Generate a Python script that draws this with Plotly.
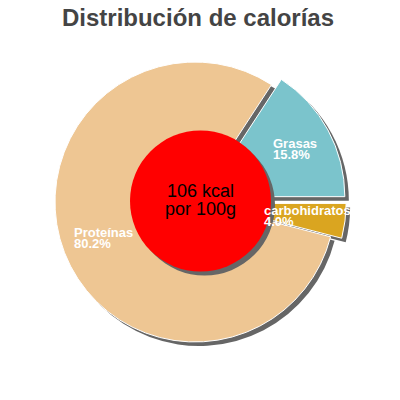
import math
import plotly.graph_objects as go

# ---- data ----
labels = ["carbohidratos", "Proteínas", "Grasas"]
values = [4.0, 80.2, 15.8]
pct_text = ["4.0%", "80.2%", "15.8%"]
colors = ["#DAA520", "#EEC693", "#7BC4CC"]
pulls = [0.08, 0.0, 0.08]
title_text = "Distribución de calorías"
center_lines = ["106 kcal", "por 100g"]

W = H = 400
OFF = 8.0                           # page body margin of the browser
CX, CY, R = 195.0, 202.0, 140.0     # pie centre / radius (px, in the screenshot)
SH = 4.0                            # shadow offset (px)
maxpull = max(pulls)
half = R * (1 + maxpull)


def px(x):
    return (x - OFF) / W


def py(y):
    return 1 - (y - OFF) / H


def dom(dx=0.0, dy=0.0):
    return dict(x=[px(CX - half + dx), px(CX + half + dx)],
                y=[py(CY + half + dy), py(CY - half + dy)])


fig = go.Figure()
# shadow pie
fig.add_trace(go.Pie(labels=labels, values=values, sort=False, direction="clockwise",
                     rotation=90, pull=pulls, domain=dom(SH, SH), textinfo="none",
                     hoverinfo="skip", showlegend=False,
                     marker=dict(colors=["#666666"] * 3, line=dict(width=0))))
# main pie
fig.add_trace(go.Pie(labels=labels, values=values, sort=False, direction="clockwise",
                     rotation=90, pull=pulls, domain=dom(), textinfo="none",
                     hole=0.4, hoverinfo="label+percent", showlegend=False,
                     marker=dict(colors=colors, line=dict(color="white", width=1))))

# red centre disc + shadow
RCX, RCY, RR = 200.5, 201.0, 70.5
for dx, col in ((SH, "#666666"), (0, "#FF0000")):
    fig.add_shape(type="circle", xref="paper", yref="paper",
                  x0=px(RCX - RR + dx), x1=px(RCX + RR + dx),
                  y0=py(RCY + RR + dx), y1=py(RCY - RR + dx),
                  fillcolor=col, line=dict(width=0))

# slice labels (bold Helvetica-like metrics for centring)
cw = {c: 0.611 for c in "bdhnopqu"}
cw.update({c: 0.556 for c in "acesk0123456789"})
cw.update({"i": 0.278, "í": 0.278, "l": 0.278, "r": 0.389, "t": 0.333,
           "G": 0.778, "P": 0.667, ".": 0.278, "%": 0.889})
FS = 13


def width(t):
    return sum(cw.get(c, 0.556) for c in t) * FS


total = sum(values)
cum = 0.0
for lab, v, p, pt in zip(labels, values, pulls, pct_text):
    mid = -(cum + v / 2) / total * 2 * math.pi
    cum += v
    r = 100 + p * R
    mx = CX + r * math.cos(mid)
    my = CY - r * math.sin(mid)
    left = mx - max(width(lab), width(pt)) / 2
    for txt, oy in ((lab, -5.5), (pt, 5.5)):
        fig.add_annotation(x=px(left), y=py(my + oy), xref="paper", yref="paper",
                           xanchor="left", yanchor="middle", text="<b>" + txt + "</b>",
                           showarrow=False,
                           font=dict(family="Liberation Sans, Arial", size=FS, color="white"))

# centre text
for txt, yy in zip(center_lines, (191, 209)):
    fig.add_annotation(x=px(RCX), y=py(yy), xref="paper", yref="paper",
                       xanchor="center", yanchor="middle", text=txt, showarrow=False,
                       font=dict(family="Liberation Sans, Arial", size=18, color="black"))

fig.update_layout(
    width=W, height=H, margin=dict(l=0, r=0, t=0, b=0),
    paper_bgcolor="white", plot_bgcolor="white",
    title=dict(text="<b>" + title_text + "</b>", x=px(198), xanchor="center",
               y=py(18), yanchor="middle",
               font=dict(family="Liberation Sans, Arial", size=24, color="#444444")),
)

fig.write_html("out.html")
